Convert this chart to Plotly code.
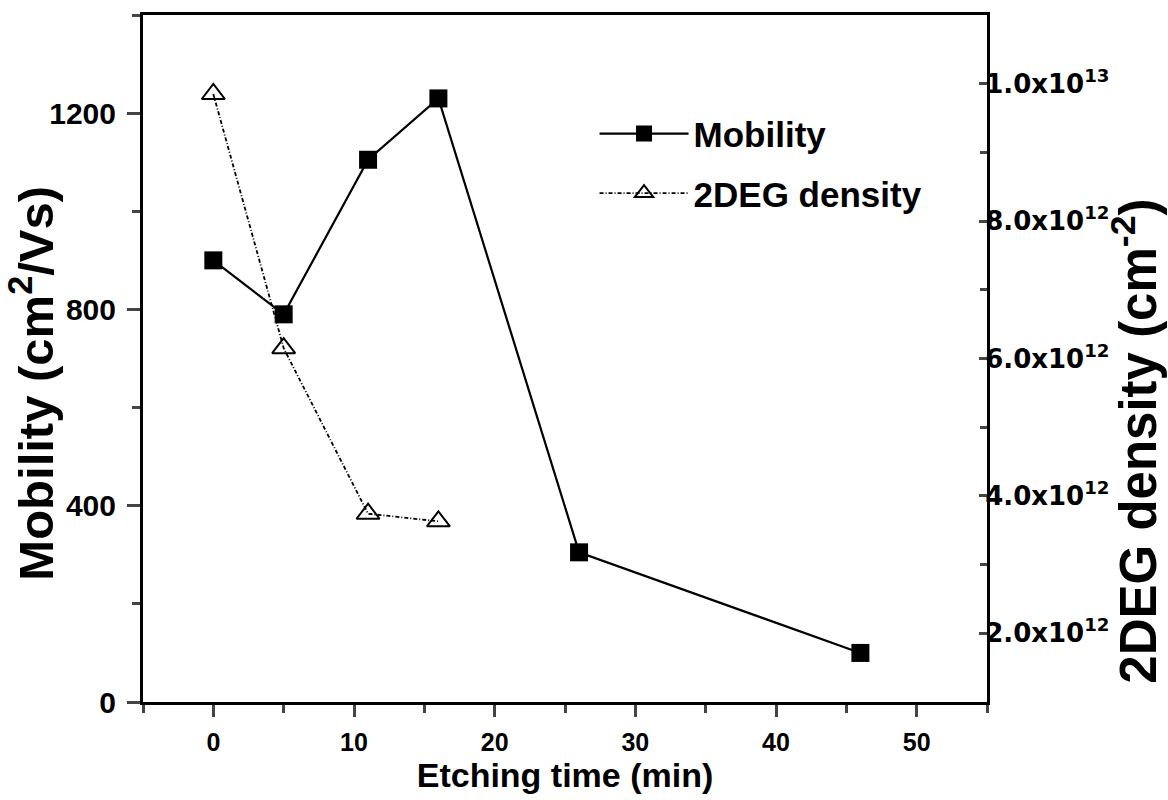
import plotly.graph_objects as go

# Etching time (min) and measured Hall data
etch_time_mob = [0, 5, 11, 16, 26, 46]
mobility = [900, 790, 1105, 1230, 305, 100]          # cm^2/Vs

etch_time_2deg = [0, 5, 11, 16]
density_2deg = [9.85e12, 6.15e12, 3.74e12, 3.63e12]  # cm^-2

x_ticks = [0, 10, 20, 30, 40, 50]
y_ticks = [0, 400, 800, 1200]
y2_ticks = [2e12, 4e12, 6e12, 8e12, 1e13]
y2_labels = ["2.0x10<sup>12</sup>", "4.0x10<sup>12</sup>", "6.0x10<sup>12</sup>",
             "8.0x10<sup>12</sup>", "1.0x10<sup>13</sup>"]


def bold(labels):
    return ["<b>%s</b>" % s for s in labels]


FONT = "Liberation Sans, Arial, sans-serif"
WIDE = "DejaVu Sans, Liberation Sans, sans-serif"
AX_W = 3

fig = go.Figure()
fig.add_trace(go.Scatter(
    x=etch_time_mob, y=mobility, name="<b>Mobility</b>", legendgroup="mob",
    mode="lines+markers",
    line=dict(color="black", width=2.2),
    marker=dict(symbol="square", size=18, color="black"),
))
fig.add_trace(go.Scatter(
    x=etch_time_2deg, y=density_2deg, name="<b>2DEG density</b>", legendgroup="ns",
    mode="lines+markers", yaxis="y2",
    line=dict(color="black", width=1.8, dash="4px,2px,1px,2px"),
    marker=dict(symbol="triangle-up-open", size=20, color="black",
                line=dict(width=2, color="black")),
))

fig.update_layout(
    width=1168, height=800,
    margin=dict(l=143, r=181, t=13, b=98),
    paper_bgcolor="white", plot_bgcolor="white",
    font=dict(family=FONT, color="black"),
    showlegend=True,
    legend=dict(x=0.535, y=0.87, xanchor="left", yanchor="top",
                bgcolor="rgba(0,0,0,0)",
                font=dict(size=35, family=FONT),
                itemwidth=89, tracegroupgap=11),
    xaxis=dict(
        range=[-5, 55], tickvals=x_ticks, ticktext=bold([str(v) for v in x_ticks]),
        ticks="outside", ticklen=12,
        tickwidth=AX_W, showline=True, linewidth=AX_W, linecolor="black",
        mirror=True, showgrid=False, zeroline=False,
        tickfont=dict(size=25, family=FONT),
        ticklabelstandoff=4,
        minor=dict(ticks="outside", ticklen=8, tickwidth=AX_W, dtick=5,
                   tick0=0, showgrid=False),
        title=dict(text="<b>Etching time (min)</b>",
                   font=dict(size=34), standoff=8),
    ),
    yaxis=dict(
        range=[0, 1400], tickvals=y_ticks, ticktext=bold([str(v) for v in y_ticks]),
        ticks="outside", ticklen=13,
        tickwidth=AX_W, showline=True, linewidth=AX_W, linecolor="black",
        showgrid=False, zeroline=False,
        tickfont=dict(size=30, family=FONT),
        ticklabelstandoff=5,
        minor=dict(ticks="outside", ticklen=8, tickwidth=AX_W, dtick=200,
                   tick0=0, showgrid=False),
    ),
    yaxis2=dict(
        range=[1e12, 1.1e13], overlaying="y", side="right",
        tickvals=y2_ticks, ticktext=bold(y2_labels),
        ticks="inside", ticklen=8, tickwidth=AX_W,
        showline=True, linewidth=AX_W, linecolor="black",
        showgrid=False, zeroline=False,
        tickfont=dict(size=26, family=WIDE),
        ticklabelstandoff=-10,
        minor=dict(ticks="inside", ticklen=7, tickwidth=AX_W, dtick=1e12,
                   tick0=0, showgrid=False),
    ),
)

# Rotated axis titles placed as annotations
fig.add_annotation(
    text="<b>Mobility (cm<sup>2</sup>/Vs)</b>", textangle=-90,
    xref="paper", yref="paper", x=-0.131, y=0.464,
    xanchor="center", yanchor="middle", showarrow=False, borderpad=0,
    font=dict(size=49, family=FONT),
)
fig.add_annotation(
    text="<b>2DEG density (cm<sup>-2</sup>)</b>", textangle=-90,
    xref="paper", yref="paper", x=1.175, y=0.38,
    xanchor="center", yanchor="middle", showarrow=False, borderpad=0,
    font=dict(size=51, family=FONT),
)

fig.write_html("out.html")
